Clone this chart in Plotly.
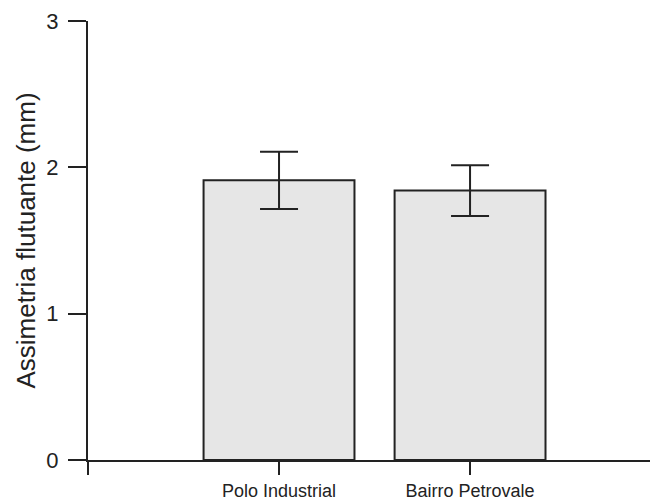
import plotly.graph_objects as go

categories = ["Polo Industrial", "Bairro Petrovale"]
means = [1.911, 1.841]
errors = [0.196, 0.173]
y_ticks = [0, 1, 2, 3]

x_pos = list(range(len(categories)))

fig = go.Figure()
fig.add_trace(go.Bar(
    x=x_pos,
    y=means,
    width=0.79,
    marker=dict(color="#e6e6e6", line=dict(color="#222222", width=2)),
    error_y=dict(type="data", array=errors, visible=True, color="#222222", thickness=2, width=19),
    showlegend=False,
))

fig.update_layout(
    width=650,
    height=500,
    margin=dict(l=88, r=0, t=21, b=40),
    plot_bgcolor="white",
    paper_bgcolor="white",
    font=dict(family="Liberation Sans, Arial, sans-serif", color="#222222"),
    xaxis=dict(
        range=[-1, 1.942],
        tickmode="array",
        tickvals=[-1] + x_pos,
        ticktext=[""] + categories,
        ticks="outside",
        ticklen=13,
        tickwidth=2,
        tickcolor="#222222",
        showline=True,
        linecolor="#222222",
        linewidth=2,
        showgrid=False,
        zeroline=False,
        tickfont=dict(size=18),
        ticklabelstandoff=0,
        automargin=False,
    ),
    yaxis=dict(
        range=[0, 3],
        tickvals=y_ticks,
        ticks="outside",
        ticklen=18,
        tickwidth=2,
        tickcolor="#222222",
        showline=True,
        linecolor="#222222",
        linewidth=2,
        showgrid=False,
        zeroline=False,
        tickfont=dict(size=22),
        ticklabelstandoff=5,
        automargin=False,
        title=dict(text="Assimetria flutuante (mm)", font=dict(size=26), standoff=3),
    ),
)

fig.write_html(
    "out.html",
    config={"displayModeBar": False},
    post_script="document.body.style.margin='0';document.body.style.overflow='hidden';",
)
